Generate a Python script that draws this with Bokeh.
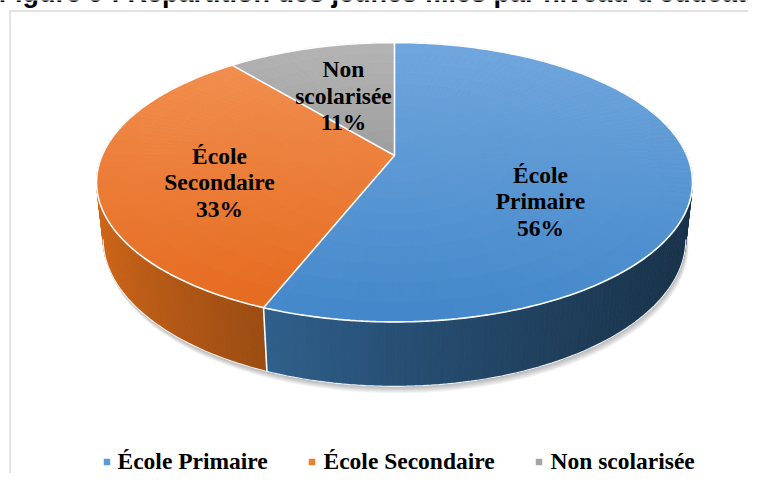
import numpy as np
from bokeh.plotting import figure
from bokeh.models import Range1d
from bokeh.core.properties import value
from bokeh.embed import file_html
from bokeh.resources import INLINE

# ---------------- data ----------------
title = "Figure 9 : Répartition des jeunes filles par niveau d'éducation"
categories = ["École Primaire", "École Secondaire", "Non scolarisée"]
label_lines = [["École", "Primaire"], ["École", "Secondaire"], ["Non", "scolarisée"]]
values = [56, 33, 11]

# ---------------- style ----------------
legend_colors = ["#5b9bd5", "#ed7d31", "#a5a5a5"]
top_light = [(112, 166, 221), (242, 145, 82), (180, 180, 180)]
top_dark = [(66, 135, 202), (229, 104, 28), (125, 125, 125)]
wall_base = [(75, 152, 222), (248, 122, 30), (160, 160, 160)]
label_pos = [(540, 210), (219, 191), (343, 104.5)]   # x, baseline of middle line
legend_sq_x = [106.5, 311.5, 538.5]
legend_tx_x = [117, 323, 550]
LEG_Y = 469.5
SERIF = value("Liberation Serif")
LBL_SIZE = 23.5
TXT_OFF = 0.4   # em shift of rendered baseline, compensated

W, H = 748, 473
CX, CY, F, D, SA, CA, TH = 394.0, 155.0, 1357.0, 4.64, 0.46, 0.888, 0.22


def proj(u, w, h=0.0):
    Y = w * SA - h * CA
    Z = D + w * CA + h * SA
    return CX + F * u / Z, CY - F * Y / Z


def rim(theta, r=1.0, h=0.0):
    return proj(r * np.sin(theta), r * np.cos(theta), h)


def hexc(c):
    return "#%02x%02x%02x" % tuple(int(round(max(0, min(255, v)))) for v in c)


total = float(sum(values))
frac = np.array(values) / total
ends = np.cumsum(frac) * 2 * np.pi
starts = ends - frac * 2 * np.pi

p = figure(width=W, height=H, output_backend="svg", toolbar_location=None,
           x_range=Range1d(0, W), y_range=Range1d(H, 0), min_border=0,
           x_axis_location=None, y_axis_location=None)
p.grid.visible = False
p.outline_line_color = None
p.background_fill_color = "white"
p.border_fill_color = "white"

# title (cut at the top as in the reference)
TSIZE = 27
p.text(x=[-2], y=[3 - TXT_OFF * TSIZE], text=[title], text_font=value("Liberation Sans"),
       text_font_style="bold", text_font_size="%gpx" % TSIZE, text_baseline="alphabetic",
       text_color="black")

# frame
p.quad(left=[9.5], right=[800], top=[10.5], bottom=[520], fill_color=None,
       line_color="#d9d9d9", line_width=1.5)

# shadow
full = np.linspace(0, 2 * np.pi, 361)
bx, by = rim(full, 1.0, TH)
for k in range(1, 8):
    p.patch(bx + 0.4 * k, by + k, fill_color="black", fill_alpha=0.045, line_color=None)

# walls
quads = []
for i in range(len(values)):
    n = max(2, int(np.ceil((ends[i] - starts[i]) / np.radians(1.0))))
    th = np.linspace(starts[i], ends[i], n + 1)
    for a, b in zip(th[:-1], th[1:]):
        m = 0.5 * (a + b)
        if np.cos(m) > 0.35:
            continue
        x0, y0 = rim(a)
        x1, y1 = rim(b)
        x2, y2 = rim(b, 1.0, TH)
        x3, y3 = rim(a, 1.0, TH)
        f = 0.62 + 0.28 * np.cos(m - np.radians(290))
        c = hexc(np.array(wall_base[i]) * f)
        quads.append((np.cos(m), [x0, x1, x2, x3], [y0, y1, y2, y3], c))
quads.sort(key=lambda q: -q[0])
p.patches(xs=[q[1] for q in quads], ys=[q[2] for q in quads],
          fill_color=[q[3] for q in quads], line_color=[q[3] for q in quads], line_width=0.8)

# top faces with vertical gradient
Y_TOP, Y_BOT = rim(0.0)[1], rim(np.pi)[1]
cx_l, cy_l, cc = [], [], []
for i in range(len(values)):
    n = max(2, int(np.ceil((ends[i] - starts[i]) / np.radians(2.0))))
    th = np.linspace(starts[i], ends[i], n + 1)
    rs = np.linspace(0, 1, 11)
    lt, dk = np.array(top_light[i]), np.array(top_dark[i])
    for a, b in zip(th[:-1], th[1:]):
        for r0, r1 in zip(rs[:-1], rs[1:]):
            pa0 = rim(a, r0); pb0 = rim(b, r0); pb1 = rim(b, r1); pa1 = rim(a, r1)
            yc = rim(0.5 * (a + b), 0.5 * (r0 + r1))[1]
            t = np.clip((yc - Y_TOP) / (Y_BOT - Y_TOP), 0, 1)
            c = hexc(lt + (dk - lt) * t)
            cx_l.append([pa0[0], pb0[0], pb1[0], pa1[0]])
            cy_l.append([pa0[1], pb0[1], pb1[1], pa1[1]])
            cc.append(c)
p.patches(xs=cx_l, ys=cy_l, fill_color=cc, line_color=cc, line_width=0.8)

# white edges
tx, ty = rim(full)
p.line(tx, ty, line_color="white", line_width=1.6)
for a in starts:
    ex, ey = rim(a)
    p.line([CX, ex], [CY, ey], line_color="white", line_width=1.6)
    if np.cos(a) < -0.19:
        bx2, by2 = rim(a, 1.0, TH)
        p.line([ex, bx2], [ey, by2], line_color="white", line_width=1.6)
front = np.linspace(np.radians(101), np.radians(259), 120)
fx, fy = rim(front, 1.0, TH)
p.line(fx, fy, line_color="white", line_width=1.2, line_alpha=0.9)

# data labels
for i in range(len(values)):
    lx, ly = label_pos[i]
    lines = label_lines[i] + ["%d%%" % values[i]]
    for k, s in enumerate(lines):
        p.text(x=[lx], y=[ly + (k - 1) * 26.5 - TXT_OFF * LBL_SIZE], text=[s], text_font=SERIF,
               text_font_style="bold", text_font_size="%gpx" % LBL_SIZE, text_align="center",
               text_baseline="alphabetic", text_color="black")

# legend
for i in range(len(categories)):
    p.rect(x=[legend_sq_x[i]], y=[461.5], width=6.5, height=6.5,
           fill_color=legend_colors[i], line_color=None)
    p.text(x=[legend_tx_x[i]], y=[LEG_Y - TXT_OFF * LBL_SIZE], text=[categories[i]], text_font=SERIF,
           text_font_style="bold", text_font_size="%gpx" % LBL_SIZE, text_align="left",
           text_baseline="alphabetic", text_color="black")

open("out.html", "w").write(file_html(p, INLINE))
